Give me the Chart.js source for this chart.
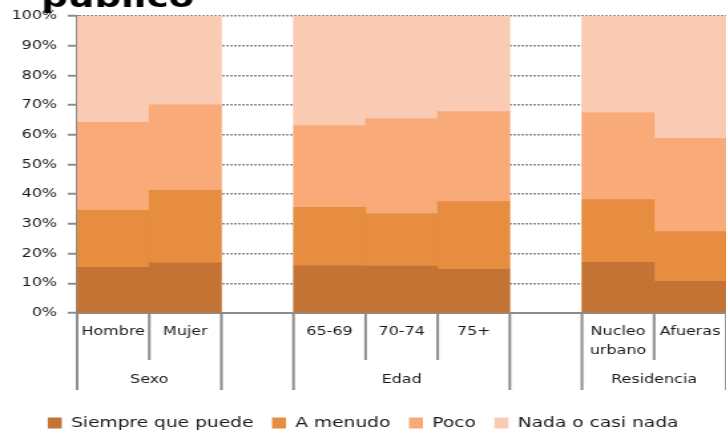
<!DOCTYPE html>
<html>
<head>
<meta charset="utf-8">
<script src="https://cdn.jsdelivr.net/npm/chart.js@4/dist/chart.umd.min.js"></script>
<style>
  html, body { margin: 0; padding: 0; background: #fff; overflow: hidden; width: 726px; height: 431px; }
  /* el original está estirado en horizontal (~1.33) */
  #wrap { position: absolute; left: 0; top: 0; width: 546px; height: 440px;
          transform: scaleX(1.33); transform-origin: 0 0; }
</style>
</head>
<body>
<div id="wrap"><canvas id="grafico"></canvas></div>
<script>
// Datos
const categorias = ['Hombre', 'Mujer', '', '65-69', '70-74', '75+', '', ['Nucleo', 'urbano'], 'Afueras'];
const grupos = ['Sexo', 'Edad', 'Residencia'];
const gruposDesde = [0, 3, 7];
const gruposHasta = [1, 5, 8];
const ticksY = [0, 10, 20, 30, 40, 50, 60, 70, 80, 90, 100];
const titulo = 'público';

const siempre = [15.4, 16.9, null, 15.9, 15.8, 14.7, null, 17.1, 10.7];
const aMenudo = [19.2, 24.4, null, 19.7, 17.7, 22.8, null, 21.1, 16.7];
const poco    = [29.6, 28.8, null, 27.5, 32.0, 30.3, null, 29.3, 31.4];
const nada    = [35.8, 29.9, null, 36.9, 34.5, 32.2, null, 32.5, 41.2];

const gris = '#8c8c8c';
const texto = '#1a1a1a';
Chart.defaults.font.family = '"DejaVu Sans", Verdana, sans-serif';
Chart.defaults.color = texto;

// título cortado arriba (solo asoma la última línea)
const tituloRecortado = {
  id: 'tituloRecortado',
  afterDraw(chart) {
    const ctx = chart.ctx;
    ctx.save();
    ctx.fillStyle = '#000';
    ctx.font = 'bold 28px "DejaVu Sans"';
    ctx.textAlign = 'left';
    ctx.textBaseline = 'alphabetic';
    ctx.fillText(titulo, 31, 7);
    ctx.restore();
  }
};

// separadores y etiquetas de grupo bajo el eje x
const ejeAgrupado = {
  id: 'ejeAgrupado',
  afterDraw(chart) {
    const sx = chart.scales.x;
    const ctx = chart.ctx;
    const base = chart.chartArea.bottom;
    const n = categorias.length;
    const borde = i => i === 0 ? sx.left : i === n ? sx.right
      : (sx.getPixelForValue(i - 1) + sx.getPixelForValue(i)) / 2;
    const largos = new Set();
    gruposDesde.forEach(i => largos.add(i));
    gruposHasta.forEach(i => largos.add(i + 1));

    ctx.save();
    ctx.strokeStyle = gris;
    ctx.lineWidth = 2;
    for (let i = 0; i <= n; i++) {
      const px = borde(i);
      ctx.beginPath();
      ctx.moveTo(px, base);
      ctx.lineTo(px, base + (largos.has(i) ? 77 : 47));
      ctx.stroke();
    }
    ctx.fillStyle = texto;
    ctx.font = '12px "DejaVu Sans"';
    ctx.textAlign = 'center';
    ctx.textBaseline = 'middle';
    grupos.forEach((g, k) => {
      const cx = (borde(gruposDesde[k]) + borde(gruposHasta[k] + 1)) / 2;
      ctx.fillText(g, cx, base + 67);
    });
    ctx.restore();
  }
};

const ctx = document.getElementById('grafico').getContext('2d');
const grafico = new Chart(ctx, {
  type: 'bar',
  data: {
    labels: categorias,
    datasets: [
      { label: 'Siempre que puede', data: siempre, backgroundColor: '#c37434' },
      { label: 'A menudo', data: aMenudo, backgroundColor: '#e68d40' },
      { label: 'Poco', data: poco, backgroundColor: '#f8aa78' },
      { label: 'Nada o casi nada', data: nada, backgroundColor: '#f9cbb2' }
    ]
  },
  options: {
    responsive: true,
    maintainAspectRatio: false,
    animation: false,
    barPercentage: 1,
    categoryPercentage: 1,
    layout: { padding: { left: 0, right: 0, top: 16, bottom: 0 } },
    scales: {
      x: {
        stacked: true,
        offset: true,
        grid: { display: false, drawTicks: false },
        border: { color: gris, width: 2 },
        ticks: {
          color: texto,
          font: { size: 12, lineHeight: 1.58 },
          padding: 9.5,
          maxRotation: 0,
          autoSkip: false
        },
        afterFit: s => { s.height = 89; s.paddingLeft = 0; s.paddingRight = 0; }
      },
      y: {
        stacked: true,
        min: 0,
        max: 100,
        afterBuildTicks: s => { s.ticks = ticksY.map(v => ({ value: v })); },
        grid: {
          color: gris,
          lineWidth: 1.5,
          tickLength: 7,
          tickColor: gris,
          tickWidth: 2,
          tickBorderDash: []
        },
        border: { color: gris, width: 2, dash: [2, 1] },
        ticks: {
          color: texto,
          font: { size: 12 },
          padding: 8,
          callback: v => v + '%'
        },
        afterFit: s => { s.width = 58; }
      }
    },
    plugins: {
      title: { display: false },
      legend: {
        position: 'bottom',
        labels: {
          color: texto,
          font: { size: 14 },
          boxWidth: 10.5,
          boxHeight: 11,
          padding: 14
        }
      },
      tooltip: { enabled: false }
    }
  },
  plugins: [ejeAgrupado, tituloRecortado]
});
</script>
</body>
</html>
